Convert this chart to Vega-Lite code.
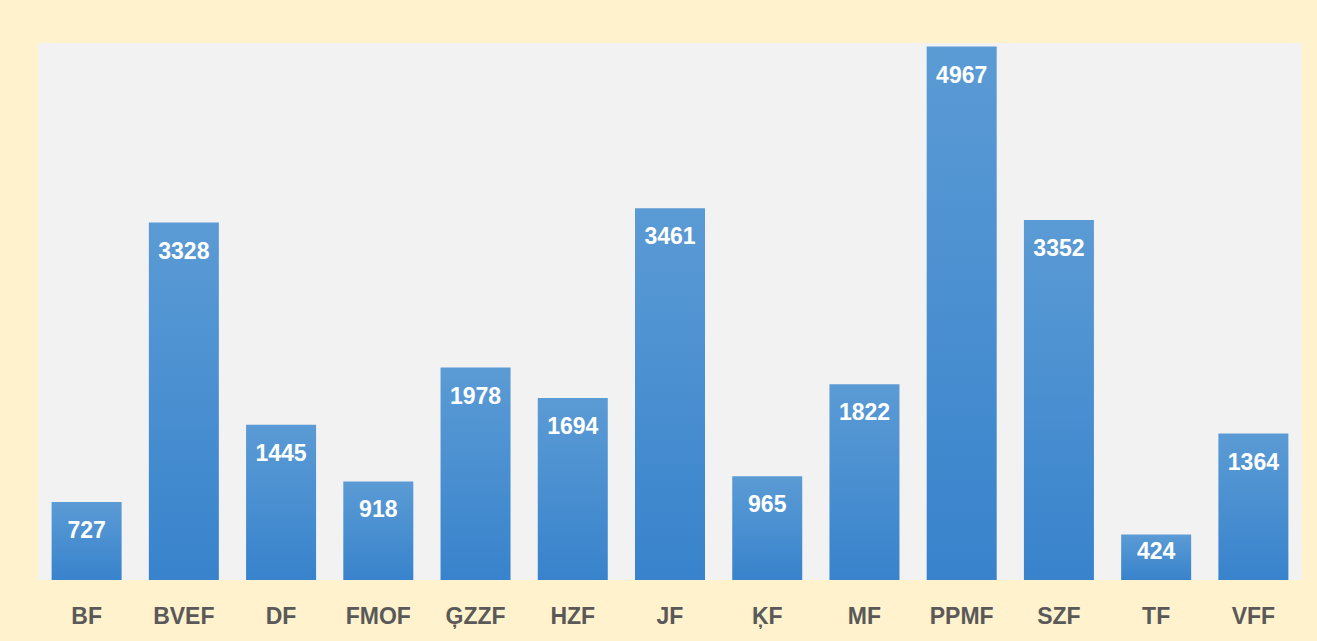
{
  "$schema": "https://vega.github.io/schema/vega-lite/v6.json",
  "width": 1264,
  "height": 537,
  "autosize": {"type": "none"},
  "padding": {"left": 38, "top": 43, "right": 15, "bottom": 61},
  "background": "#FFF2CC",
  "view": {"fill": "#F2F2F2", "stroke": null},
  "data": {
    "values": [
      {"fak": "BF", "skaits": 727},
      {"fak": "BVEF", "skaits": 3328},
      {"fak": "DF", "skaits": 1445},
      {"fak": "FMOF", "skaits": 918},
      {"fak": "ĢZZF", "skaits": 1978},
      {"fak": "HZF", "skaits": 1694},
      {"fak": "JF", "skaits": 3461},
      {"fak": "ĶF", "skaits": 965},
      {"fak": "MF", "skaits": 1822},
      {"fak": "PPMF", "skaits": 4967},
      {"fak": "SZF", "skaits": 3352},
      {"fak": "TF", "skaits": 424},
      {"fak": "VFF", "skaits": 1364}
    ]
  },
  "encoding": {
    "x": {
      "field": "fak",
      "type": "nominal",
      "sort": null,
      "scale": {"paddingInner": 0.28, "paddingOuter": 0.14},
      "axis": {
        "title": null,
        "domain": false,
        "ticks": false,
        "labelAngle": 0,
        "labelFont": "Liberation Sans",
        "labelFontWeight": "bold",
        "labelFontSize": 23,
        "labelColor": "#595959",
        "labelPadding": 25
      }
    },
    "y": {
      "field": "skaits",
      "type": "quantitative",
      "scale": {"domain": [0, 5000], "nice": false},
      "axis": null
    }
  },
  "layer": [
    {
      "mark": {
        "type": "bar",
        "color": {
          "gradient": "linear",
          "x1": 0, "y1": 0, "x2": 0, "y2": 1,
          "stops": [
            {"offset": 0, "color": "#5B9BD5"},
            {"offset": 1, "color": "#3883CC"}
          ]
        }
      }
    },
    {
      "transform": [{"filter": "datum.skaits >= 600"}],
      "mark": {
        "type": "text",
        "baseline": "middle",
        "dy": 29,
        "color": "#FFFFFF",
        "font": "Liberation Sans",
        "fontWeight": "bold",
        "fontSize": 23
      },
      "encoding": {"text": {"field": "skaits", "type": "quantitative"}}
    },
    {
      "transform": [{"filter": "datum.skaits < 600"}],
      "mark": {
        "type": "text",
        "baseline": "middle",
        "dy": 18,
        "color": "#FFFFFF",
        "font": "Liberation Sans",
        "fontWeight": "bold",
        "fontSize": 23
      },
      "encoding": {"text": {"field": "skaits", "type": "quantitative"}}
    }
  ]
}
